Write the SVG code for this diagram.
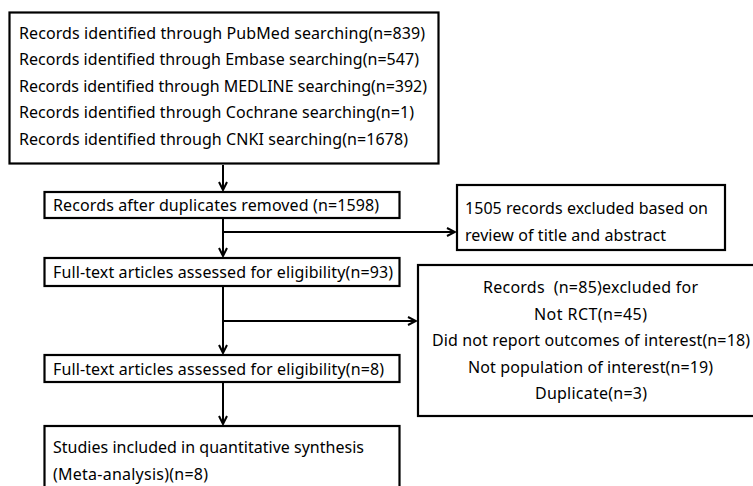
<svg xmlns="http://www.w3.org/2000/svg" width="753" height="486" viewBox="0 0 753 486">
<defs>
<style>
.box{fill:#fff;stroke:#000;stroke-width:2.2}
.t{font-family:"Noto Sans","Open Sans","Liberation Sans",sans-serif;font-size:16px;fill:#000}
.c{text-anchor:middle}
.ln{fill:none;stroke:#000;stroke-width:2}
</style>
<marker id="ah" viewBox="0 0 10 10" refX="9" refY="5" markerWidth="10" markerHeight="10" markerUnits="userSpaceOnUse" orient="auto">
<path d="M1,1 L9,5 L1,9" fill="none" stroke="#000" stroke-width="2"/>
</marker>
</defs>
<rect width="753" height="486" fill="#fff"/>
<g id="connectors">
<line class="ln" x1="223" y1="165" x2="223" y2="190" marker-end="url(#ah)"/>
<line class="ln" x1="223" y1="219" x2="223" y2="256" marker-end="url(#ah)"/>
<line class="ln" x1="223" y1="232" x2="455" y2="232" marker-end="url(#ah)"/>
<line class="ln" x1="223" y1="287" x2="223" y2="353" marker-end="url(#ah)"/>
<line class="ln" x1="223" y1="321" x2="416" y2="321" marker-end="url(#ah)"/>
<line class="ln" x1="223" y1="383" x2="223" y2="424" marker-end="url(#ah)"/>
</g>
<g id="n1">
<rect class="box" x="9.5" y="12.5" width="429" height="151"/>
<text class="t" x="19" y="38.5" textLength="406" lengthAdjust="spacing">Records identified through PubMed searching(n=839)</text>
<text class="t" x="19" y="65" textLength="400" lengthAdjust="spacing">Records identified through Embase searching(n=547)</text>
<text class="t" x="19" y="91.5" textLength="408" lengthAdjust="spacing">Records identified through MEDLINE searching(n=392)</text>
<text class="t" x="19" y="118" textLength="395" lengthAdjust="spacing">Records identified through Cochrane searching(n=1)</text>
<text class="t" x="19" y="144.5" textLength="389" lengthAdjust="spacing">Records identified through CNKI searching(n=1678)</text>
</g>
<g id="n2">
<rect class="box" x="44.5" y="192" width="355" height="26"/>
<text class="t" x="53" y="210.5" textLength="326" lengthAdjust="spacing">Records after duplicates removed (n=1598)</text>
</g>
<g id="n3">
<rect class="box" x="44.5" y="258" width="355" height="28"/>
<text class="t" x="53" y="278" textLength="340" lengthAdjust="spacing">Full-text articles assessed for eligibility(n=93)</text>
</g>
<g id="n4">
<rect class="box" x="457" y="185" width="268" height="65"/>
<text class="t" x="465" y="214" textLength="243" lengthAdjust="spacing">1505 records excluded based on</text>
<text class="t" x="465" y="241" textLength="201" lengthAdjust="spacing">review of title and abstract</text>
</g>
<g id="n5">
<rect class="box" x="418" y="265" width="340" height="151"/>
<text class="t c" x="590.5" y="292.5" textLength="215" lengthAdjust="spacing">Records&#160; (n=85)excluded for</text>
<text class="t c" x="590.5" y="319.5" textLength="113" lengthAdjust="spacing">Not RCT(n=45)</text>
<text class="t c" x="591" y="346" textLength="318" lengthAdjust="spacing">Did not report outcomes of interest(n=18)</text>
<text class="t c" x="590.5" y="372.5" textLength="245" lengthAdjust="spacing">Not population of interest(n=19)</text>
<text class="t c" x="591" y="399" textLength="112" lengthAdjust="spacing">Duplicate(n=3)</text>
</g>
<g id="n6">
<rect class="box" x="44.5" y="355" width="355" height="27"/>
<text class="t" x="53" y="375" textLength="331" lengthAdjust="spacing">Full-text articles assessed for eligibility(n=8)</text>
</g>
<g id="n7">
<rect class="box" x="44.5" y="426" width="355" height="70"/>
<text class="t" x="53" y="453" textLength="311" lengthAdjust="spacing">Studies included in quantitative synthesis</text>
<text class="t" x="53" y="480" textLength="155" lengthAdjust="spacing">(Meta-analysis)(n=8)</text>
</g>
</svg>
